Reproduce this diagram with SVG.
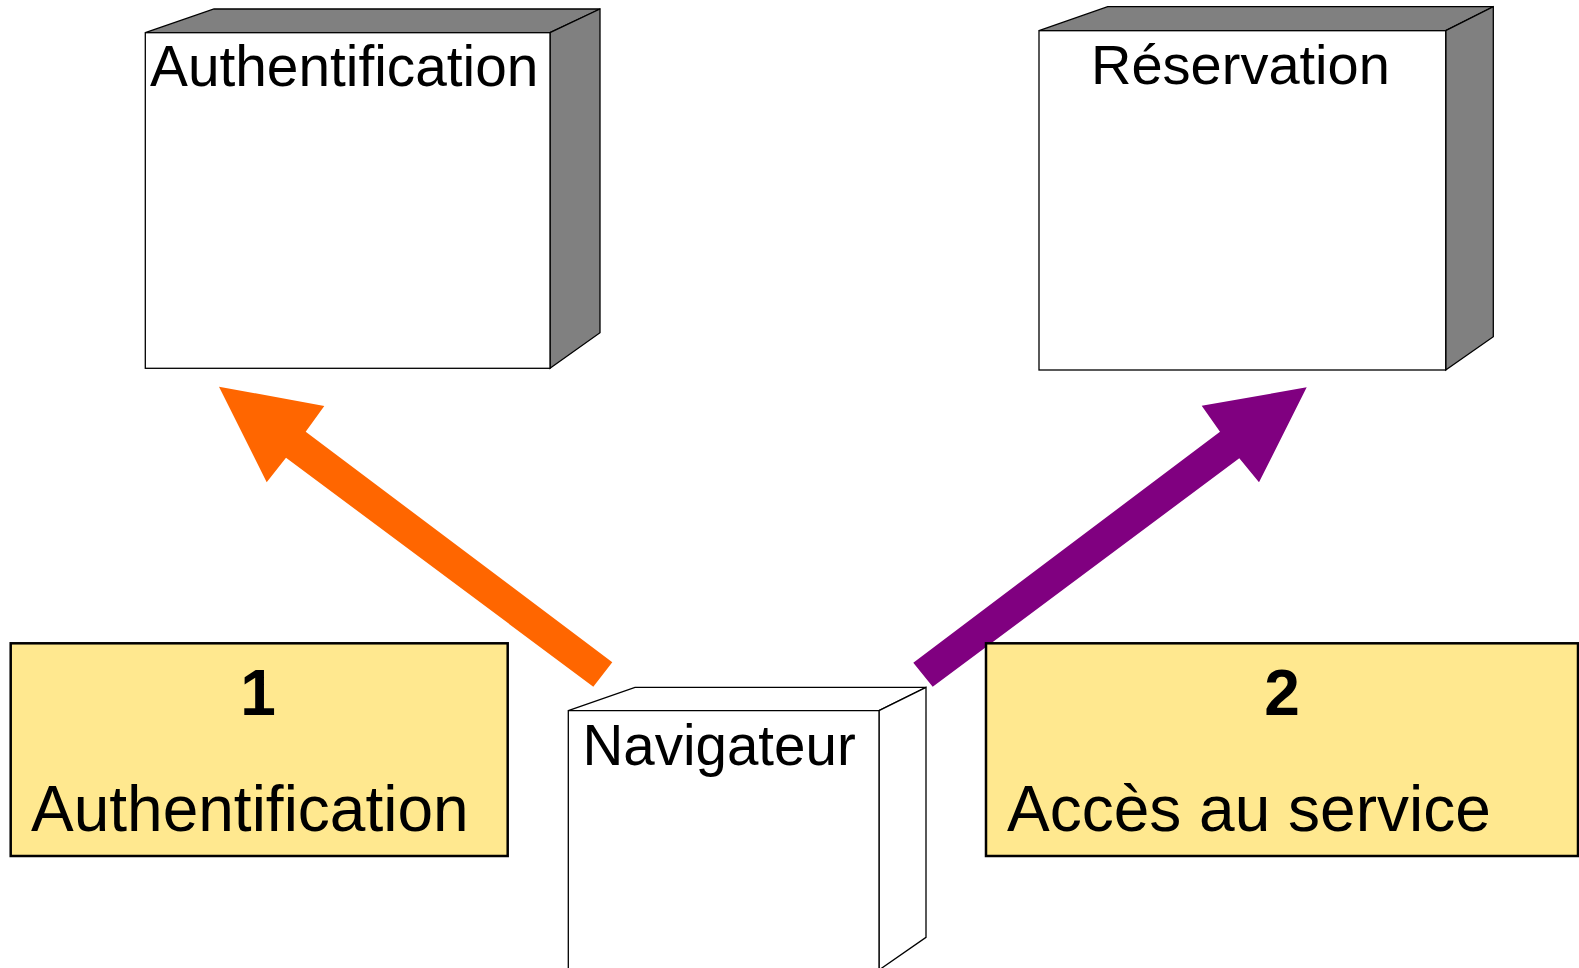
<svg xmlns="http://www.w3.org/2000/svg" width="1579" height="968" viewBox="0 0 1579 968">
<style>
.face{fill:#ffffff;stroke:#000;stroke-width:1.3}
.side{fill:#808080;stroke:#000;stroke-width:1.3}
.lbl{font-family:"Liberation Sans",Arial,sans-serif;font-size:56px;fill:#000}
.note{fill:#FFE88F;stroke:#000;stroke-width:2.5}
.ntxt{font-family:"Liberation Sans",Arial,sans-serif;font-size:64px;fill:#000}
.num{font-family:"Liberation Sans",Arial,sans-serif;font-size:64px;font-weight:bold;fill:#000;text-anchor:middle}
</style>
<rect width="1579" height="968" fill="#fff"/>
<g id="node-authentification">
<polygon class="side" points="145.3,32.7 214,9 600,9 550,32.7"/>
<polygon class="side" points="550,32.7 600,9 600,332.7 550,368.3"/>
<rect class="face" x="145.3" y="32.7" width="404.7" height="335.6"/>
<text class="lbl" x="150" y="86" style="font-size:56.8px">Authentification</text>
</g>
<g id="node-reservation">
<polygon class="side" points="1039,30.7 1107.7,6.7 1493.3,6.7 1445.7,30.7"/>
<polygon class="side" points="1445.7,30.7 1493.3,6.7 1493.3,336.7 1445.7,370"/>
<rect class="face" x="1039" y="30.7" width="406.7" height="339.3"/>
<text class="lbl" x="1091" y="84">Réservation</text>
</g>
<g id="node-navigateur">
<polygon class="face" points="568.3,710.7 635,687.3 926,687.3 879,710.7"/>
<polygon class="face" points="879,710.7 926,687.3 926,937.3 879,970"/>
<polygon class="face" points="568.3,710.7 879,710.7 879,975 568.3,975"/>
<text class="lbl" x="582.5" y="765" style="font-size:56.5px">Navigateur</text>
</g>
<g id="connectors">
<polygon fill="#FF6600" points="219,386.7 324.3,406 305.7,431.7 612.3,662.3 593.3,686.7 286,457.7 266.7,482.3"/>
<polygon fill="#800080" points="1306.7,387.3 1259,482.3 1239.3,458.3 932.7,686.7 913.3,662.7 1220,431.7 1201.7,405.7"/>
</g>
<g id="note-1">
<rect class="note" x="10.7" y="643.3" width="497" height="212.7"/>
<text class="num" x="258" y="715">1</text>
<text class="ntxt" x="31" y="831">Authentification</text>
</g>
<g id="note-2">
<rect class="note" x="986" y="643.3" width="592" height="212.7"/>
<text class="num" x="1282" y="715">2</text>
<text class="ntxt" x="1007" y="831">Accès au service</text>
</g>
</svg>
